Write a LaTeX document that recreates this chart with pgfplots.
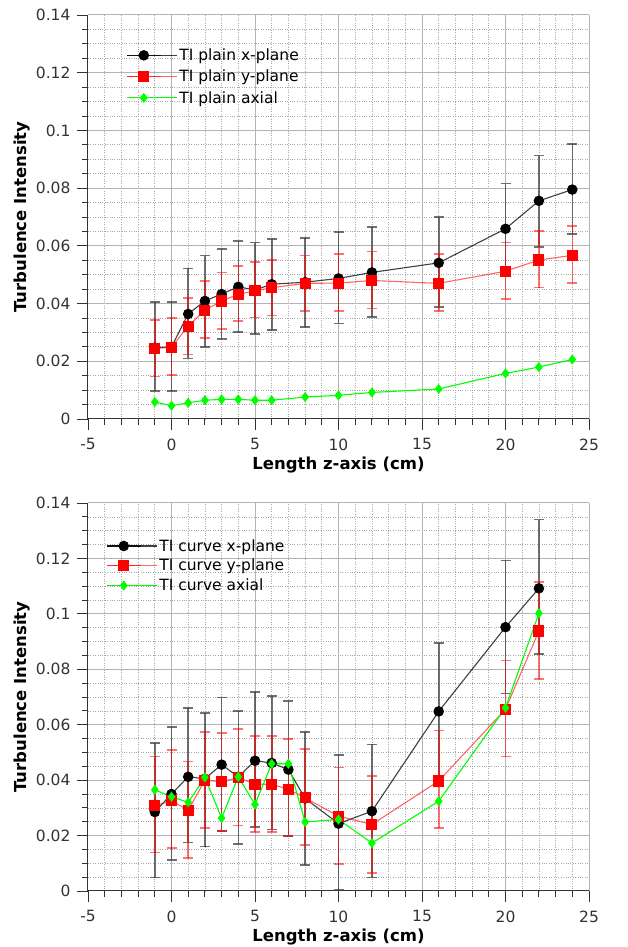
\documentclass[border=0pt]{standalone}
\usepackage{fontspec}
\setmainfont{DejaVu Sans}
\usepackage{pgfplots}
\pgfplotsset{compat=1.18}
\usepackage{pgfplotstable}

\definecolor{axgray}{HTML}{333333}
\definecolor{gridgray}{HTML}{B4B4B4}
\definecolor{minorgray}{HTML}{A8A8A8}
\definecolor{tiblack}{HTML}{000000}
\definecolor{tired}{HTML}{FF0000}
\definecolor{tigreen}{HTML}{00FF00}

% x  y  hi  lo
\pgfplotstableread{
x y hi lo
-1 0.0247 0.0406 0.0096
0 0.0250 0.0406 0.0096
1 0.0364 0.0522 0.0210
2 0.0409 0.0566 0.0250
3 0.0433 0.0589 0.0277
4 0.0458 0.0617 0.0302
5 0.0447 0.0611 0.0295
6 0.0467 0.0624 0.0308
8 0.0474 0.0627 0.0318
10 0.0487 0.0647 0.0331
12 0.0508 0.0665 0.0354
16 0.0541 0.0699 0.0389
20 0.0659 0.0816 0.0505
22 0.0756 0.0913 0.0597
24 0.0795 0.0953 0.0641
}\plainx
\pgfplotstableread{
x y hi lo
-1 0.0244 0.0344 0.0147
0 0.0249 0.0349 0.0152
1 0.0322 0.0420 0.0224
2 0.0377 0.0478 0.0281
3 0.0409 0.0508 0.0311
4 0.0432 0.0531 0.0339
5 0.0444 0.0544 0.0352
6 0.0455 0.0550 0.0358
8 0.0470 0.0566 0.0375
10 0.0471 0.0571 0.0375
12 0.0480 0.0580 0.0383
16 0.0470 0.0571 0.0375
20 0.0512 0.0611 0.0416
22 0.0551 0.0652 0.0455
24 0.0567 0.0668 0.0472
}\plainy
\pgfplotstableread{
x y
-1 0.0059
0 0.0046
1 0.0056
2 0.0065
3 0.0068
4 0.0068
5 0.0065
6 0.0065
8 0.0076
10 0.0082
12 0.0092
16 0.0104
20 0.0158
22 0.0180
24 0.0206
}\plainaxial
\pgfplotstableread{
x y hi lo
-1 0.0285 0.0534 0.0048
0 0.0350 0.0592 0.0111
1 0.0412 0.0661 0.0175
2 0.0405 0.0643 0.0160
3 0.0456 0.0698 0.0217
4 0.0412 0.0650 0.0169
5 0.0470 0.0717 0.0231
6 0.0462 0.0704 0.0222
7 0.0438 0.0685 0.0198
8 0.0334 0.0574 0.0093
10 0.0243 0.0490 0.0003
12 0.0288 0.0529 0.0048
16 0.0648 0.0895 0.0400
20 0.0952 0.1193 0.0713
22 0.1092 0.1340 0.0855
}\curvex
\pgfplotstableread{
x y hi lo
-1 0.0307 0.0485 0.0139
0 0.0326 0.0508 0.0155
1 0.0291 0.0467 0.0119
2 0.0400 0.0574 0.0228
3 0.0394 0.0570 0.0217
4 0.0410 0.0584 0.0236
5 0.0385 0.0560 0.0213
6 0.0385 0.0560 0.0213
7 0.0367 0.0548 0.0198
8 0.0336 0.0512 0.0165
10 0.0270 0.0446 0.0098
12 0.0240 0.0414 0.0066
16 0.0397 0.0579 0.0228
20 0.0656 0.0832 0.0485
22 0.0938 0.1114 0.0766
}\curvey
\pgfplotstableread{
x y
-1 0.0365
0 0.0340
1 0.0320
2 0.0410
3 0.0263
4 0.0412
5 0.0312
6 0.0459
7 0.0459
8 0.0249
10 0.0258
12 0.0173
16 0.0324
20 0.0661
22 0.1002
}\curveaxial

\pgfplotsset{
  tistyle/.style={
    scale only axis, width=501pt,
    xmin=-5, xmax=25, ymin=0, ymax=0.14,
    xtick={-5,0,5,10,15,20,25},
    ytick={0,0.02,0.04,0.06,0.08,0.1,0.12,0.14},
    scaled y ticks=false,
    minor x tick num=4, minor y tick num=3,
    axis x line=bottom, axis y line=left,
    axis line style={-, axgray, line width=1pt},
    tick align=outside, major tick length=11pt, minor tick length=6pt,
    tick style={axgray, line width=0.9pt},
    grid=both,
    major grid style={gridgray, line width=1pt},
    minor grid style={minorgray, dotted, line width=0.7pt},
    tick label style={font=\fontsize{15.5}{18}\selectfont, text=axgray},
    xticklabel style={yshift=-5pt},
    yticklabel style={xshift=-3pt},
    /pgf/number format/assume math mode=true,
    yticklabel style={/pgf/number format/fixed, /pgf/number format/precision=2},
    xlabel={Length z-axis (cm)}, ylabel={Turbulence Intensity},
    every axis x label/.style={at={(axis description cs:0.5,0)}, yshift=-46pt, anchor=center, font=\fontsize{16.5}{20}\selectfont\bfseries},
    every axis y label/.style={at={(axis description cs:0,0.5)}, xshift=-66pt, rotate=90, anchor=center, font=\fontsize{16.5}{20}\selectfont\bfseries},
    legend cell align=left,
    legend style={draw=none, fill=none, font=\fontsize{15.5}{18}\selectfont, inner sep=0pt, row sep=4pt,
      nodes={inner sep=2pt}},
    legend image code/.code={\path (0pt,0pt) -- (50pt,0pt);\draw[mark repeat=2,mark phase=2,##1] plot coordinates {(0pt,0pt) (17pt,0pt) (34pt,0pt)};},
  },
  sx/.style={color=tiblack, draw opacity=0.75, line width=1.1pt, mark=*, mark size=4.7pt,
    mark options={solid, fill=black, draw=black, draw opacity=1},
    error bars/.cd, y dir=both, y explicit,
    error bar style={black!75, line width=1.6pt},
    error mark options={rotate=90, black!75, mark size=5pt, line width=1.6pt}},
  sy/.style={color=tired, draw opacity=0.6, line width=1.1pt, mark=square*, mark size=5pt,
    mark options={solid, fill=tired, draw=tired, draw opacity=1},
    error bars/.cd, y dir=both, y explicit,
    error bar style={tired, opacity=0.55, line width=1.6pt},
    error mark options={rotate=90, tired, mark size=5pt, line width=1.6pt}},
  sz/.style={color=tigreen, line width=1.1pt, mark=diamond*, mark size=4.2pt,
    mark options={solid, fill=tigreen, draw=tigreen}},
}

\begin{document}
\begin{tikzpicture}
\useasboundingbox (0pt,0pt) rectangle (627pt,947pt);
\begin{axis}[tistyle, height=404pt, at={(88pt,528pt)}, anchor=south west,
  legend style={at={(axis description cs:0.076,0.922)}, anchor=north west}]
\addplot[sx] table[x=x, y=y, y error plus expr=\thisrow{hi}-\thisrow{y}, y error minus expr=\thisrow{y}-\thisrow{lo}] {\plainx};
\addlegendentry{TI plain x-plane}
\addplot[sy] table[x=x, y=y, y error plus expr=\thisrow{hi}-\thisrow{y}, y error minus expr=\thisrow{y}-\thisrow{lo}] {\plainy};
\addlegendentry{TI plain y-plane}
\addplot[sz] table[x=x, y=y] {\plainaxial};
\addlegendentry{TI plain axial}
\end{axis}
\begin{axis}[tistyle, height=388pt, at={(88pt,56pt)}, anchor=south west,
  legend style={at={(axis description cs:0.036,0.912)}, anchor=north west, row sep=2.5pt}]
\addplot[sx] table[x=x, y=y, y error plus expr=\thisrow{hi}-\thisrow{y}, y error minus expr=\thisrow{y}-\thisrow{lo}] {\curvex};
\addlegendentry{TI curve x-plane}
\addplot[sy] table[x=x, y=y, y error plus expr=\thisrow{hi}-\thisrow{y}, y error minus expr=\thisrow{y}-\thisrow{lo}] {\curvey};
\addlegendentry{TI curve y-plane}
\addplot[sz] table[x=x, y=y] {\curveaxial};
\addlegendentry{TI curve axial}
\end{axis}
\end{tikzpicture}
\end{document}
